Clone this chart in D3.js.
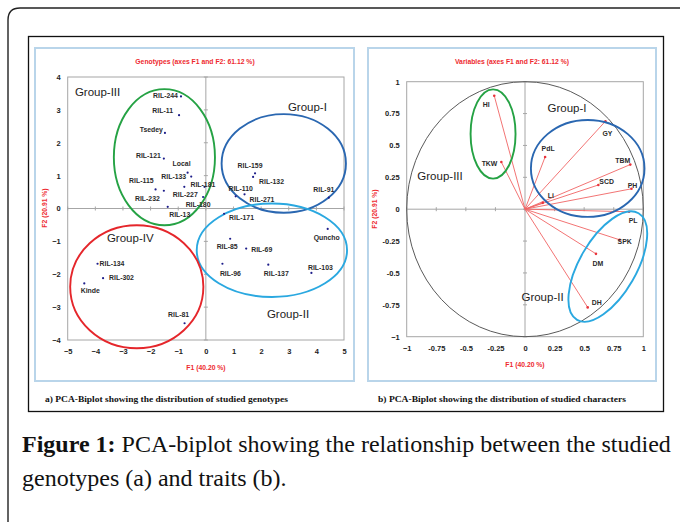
<!DOCTYPE html>
<html>
<head>
<meta charset="utf-8">
<script src="https://cdn.jsdelivr.net/npm/d3@7"></script>
<style>
  body { margin: 0; background: #fff; }
  svg { display: block; }
</style>
</head>
<body>
<div id="fig"></div>
<script>
// genotype scores (panel a)
const genoNames = ["RIL-244", "RIL-11", "Tsedey", "RIL-121", "Local", "RIL-133", "RIL-181", "RIL-227",
  "RIL-115", "RIL-232", "RIL-180", "RIL-13", "RIL-159", "RIL-132", "RIL-110", "RIL-271", "RIL-91",
  "RIL-171", "Quncho", "RIL-85", "RIL-69", "RIL-96", "RIL-137", "RIL-103", "RIL-134", "RIL-302",
  "Kinde", "RIL-81"]
const genoF1 = [-0.90, -0.97, -1.48, -1.52, -0.66, -0.53, -0.05, -0.78,
  -1.82, -1.52, -0.10, -1.38, 1.78, 1.71, 1.08, 1.40, 4.45,
  0.66, 4.41, 0.88, 1.46, 0.60, 2.26, 3.82, -3.92, -3.72,
  -4.40, -0.77]
const genoF2 = [3.41, 2.84, 2.30, 1.52, 1.09, 0.97, 0.66, 0.66,
  0.58, 0.54, 0.35, 0.05, 1.07, 0.96, 0.37, 0.43, 0.33,
  -0.16, -0.62, -0.92, -1.22, -1.68, -1.71, -1.96, -1.68, -2.12,
  -2.28, -3.49]

// trait loadings (panel b)
const traitNames = ["HI", "TKW", "PdL", "GY", "TBM", "SCD", "PH", "Li", "PL", "SPK", "DM", "DH"]
const traitF1 = [-0.26, -0.20, 0.17, 0.68, 0.89, 0.62, 0.90, 0.15, 0.88, 0.80, 0.60, 0.53]
const traitF2 = [0.89, 0.37, 0.41, 0.69, 0.35, 0.19, 0.16, 0.05, -0.02, -0.24, -0.35, -0.77]

// axis ticks
const ticksAx = [-5, -4, -3, -2, -1, 0, 1, 2, 3, 4, 5]
const ticksAy = [-4, -3, -2, -1, 0, 1, 2, 3, 4]
const ticksB = [-1, -0.75, -0.5, -0.25, 0, 0.25, 0.5, 0.75, 1]

// group ellipses in data units: name, cx, cy, rx, ry
const groupsA = [
  ["Group-III", -1.50, 1.56, 1.83, 2.07],
  ["Group-I", 2.82, 1.37, 2.25, 1.50],
  ["Group-II", 2.39, -1.27, 2.72, 1.42],
  ["Group-IV", -2.50, -2.38, 2.41, 1.87]
]
const groupsB = [
  ["Group-III", -0.27, 0.59, 0.19, 0.35, 0],
  ["Group-I", 0.53, 0.32, 0.48, 0.38, 0],
  ["Group-II", 0.70, -0.45, 0.52, 0.24, -60]
]

// label placement: [anchor, dx, dy]
const genoLabelPos = [["end", -3, 0], ["end", -6, -4], ["end", -2, -3], ["end", -3, -2], ["middle", -6, -8],
  ["end", -5, 1], ["start", -14, -2], ["middle", 1, 8], ["end", -2, -8], ["end", -4, 8], ["middle", -5, 8],
  ["middle", 12, 8], ["middle", -5, -7], ["start", 6, 5], ["middle", 5, -7], ["start", 5, 6], ["middle", -5, -7],
  ["start", 5, 4], ["middle", -1, 9], ["middle", -3, 8], ["start", 5, 2], ["middle", 8, 10], ["middle", 8, 9],
  ["middle", 9, -5], ["start", 2, 0], ["start", 6, 0], ["middle", 6, 8], ["middle", -6, -8]]
const traitLabelPos = [["middle", -8, 9], ["end", -4, 2], ["middle", 3, -8], ["middle", 2, 13], ["end", 0, -3],
  ["start", 1, -3], ["middle", 1, -3], ["start", 5, -7], ["middle", 4, 9], ["middle", 5, 2], ["middle", 2, 10],
  ["start", 4, -4]]
const groupColor = {"Group-I": "#2a67b1", "Group-II": "#2aa8e0", "Group-III": "#25a244", "Group-IV": "#e5262b"}
// where the group names start: [x, y] in data units
const groupTextA = {"Group-III": [-4.74, 3.51], "Group-I": [2.97, 3.05], "Group-IV": [-3.58, -0.93], "Group-II": [2.21, -3.24]}
const groupTextB = {"Group-I": [0.19, 0.79], "Group-III": [-0.91, 0.255], "Group-II": [-0.03, -0.70]}

const red = "#ee2a2f"
const width = 680, height = 522

const svg = d3.select("#fig").append("svg")
  .attr("width", width)
  .attr("height", height)
  .style("font-family", "'Liberation Sans', Arial, sans-serif")

svg.append("rect").attr("width", width).attr("height", height).attr("fill", "#fff")

// outer card, open at the bottom
svg.append("path")
  .attr("d", "M8,530 L8,20 Q8,8 20,8 L690,8")
  .attr("fill", "none").attr("stroke", "#222").attr("stroke-width", 1.4)

// frame around both panels
svg.append("rect").attr("x", 28.5).attr("y", 36.5).attr("width", 635).attr("height", 375)
  .attr("fill", "none").attr("stroke", "#111").attr("stroke-width", 1.3)

svg.append("rect").attr("x", 35).attr("y", 48).attr("width", 319).attr("height", 333)
  .attr("fill", "none").attr("stroke", "#b9d5ea").attr("stroke-width", 2)
svg.append("rect").attr("x", 368).attr("y", 48).attr("width", 288).attr("height", 333)
  .attr("fill", "none").attr("stroke", "#b9d5ea").attr("stroke-width", 2)

function drawFrame(g, x, y, xt, yt, xFmt) {
  const [x0, x1] = x.range(), [y0, y1] = y.range()
  g.append("rect").attr("x", x0).attr("y", y1).attr("width", x1 - x0).attr("height", y0 - y1)
    .attr("fill", "none").attr("stroke", "#a6a6a6").attr("stroke-width", 1)
  g.append("line").attr("x1", x(0)).attr("x2", x(0)).attr("y1", y1).attr("y2", y0)
    .attr("stroke", "#a6a6a6")
  g.append("line").attr("x1", x0).attr("x2", x1).attr("y1", y(0)).attr("y2", y(0))
    .attr("stroke", "#a6a6a6")
  g.selectAll(".tx").data(xt).enter().append("line")
    .attr("x1", d => x(d)).attr("x2", d => x(d)).attr("y1", y(0) - 2).attr("y2", y(0) + 2)
    .attr("stroke", "#a6a6a6")
  g.selectAll(".ty").data(yt).enter().append("line")
    .attr("y1", d => y(d)).attr("y2", d => y(d)).attr("x1", x(0) - 2).attr("x2", x(0) + 2)
    .attr("stroke", "#a6a6a6")

  const xAxis = g.append("g").attr("transform", `translate(0,${y0})`)
    .call(d3.axisBottom(x).tickValues(xt).tickSize(0).tickPadding(9).tickFormat(xFmt))
  const yAxis = g.append("g").attr("transform", `translate(${x0},0)`)
    .call(d3.axisLeft(y).tickValues(yt).tickSize(0).tickPadding(7).tickFormat(xFmt))
  for (const a of [xAxis, yAxis]) {
    a.select(".domain").remove()
    a.selectAll("text").attr("font-size", 7.5).attr("font-weight", "bold").attr("fill", "#222")
      .attr("font-family", "'Liberation Sans', Arial, sans-serif")
  }
}

function redText(g, x, y, txt, rot) {
  const t = g.append("text").attr("x", x).attr("y", y)
    .attr("text-anchor", "middle").attr("dominant-baseline", "middle")
    .attr("fill", red).attr("font-size", 6.8).attr("font-weight", "bold").text(txt)
  if (rot) t.attr("transform", `rotate(-90,${x},${y})`)
  return t
}

// ---------- panel a ----------
const xA = d3.scaleLinear().domain([-5, 5]).range([67.7, 344])
const yA = d3.scaleLinear().domain([-4, 4]).range([340, 77])
const gA = svg.append("g")
drawFrame(gA, xA, yA, ticksAx, ticksAy, d3.format("d"))

redText(gA, 195, 62, "Genotypes (axes F1 and F2: 61.12 %)")
redText(gA, 206, 368, "F1 (40.20 %)")
redText(gA, 45, 208, "F2 (20.91 %)", true)

gA.selectAll(".grp").data(groupsA).enter().append("ellipse")
  .attr("cx", d => xA(d[1])).attr("cy", d => yA(d[2]))
  .attr("rx", d => xA(d[3]) - xA(0)).attr("ry", d => yA(0) - yA(d[4]))
  .attr("fill", "none").attr("stroke", d => groupColor[d[0]]).attr("stroke-width", 1.9)

gA.selectAll(".gname").data(groupsA).enter().append("text")
  .attr("x", d => xA(groupTextA[d[0]][0])).attr("y", d => yA(groupTextA[d[0]][1]))
  .attr("dominant-baseline", "middle")
  .attr("font-size", 11.5).attr("fill", "#222").text(d => d[0])

gA.selectAll(".pt").data(genoNames).enter().append("circle")
  .attr("cx", (d, i) => xA(genoF1[i])).attr("cy", (d, i) => yA(genoF2[i]))
  .attr("r", 1.1).attr("fill", "#1d1d8a")

gA.selectAll(".lab").data(genoNames).enter().append("text")
  .attr("x", (d, i) => xA(genoF1[i]) + genoLabelPos[i][1])
  .attr("y", (d, i) => yA(genoF2[i]) + genoLabelPos[i][2])
  .attr("text-anchor", (d, i) => genoLabelPos[i][0])
  .attr("dominant-baseline", "middle")
  .attr("font-size", 6.9).attr("font-weight", "bold").attr("fill", "#2a2a2a")
  .text(d => d)

// ---------- panel b ----------
const xB = d3.scaleLinear().domain([-1, 1]).range([406.7, 643.3])
const yB = d3.scaleLinear().domain([-1, 1]).range([336.7, 81.7])
const gB = svg.append("g")
drawFrame(gB, xB, yB, ticksB, ticksB, d => (d === 0 || Math.abs(d) === 1) ? d3.format("d")(d) : String(d))

redText(gB, 512, 62, "Variables (axes F1 and F2: 61.12 %)")
redText(gB, 525, 365, "F1 (40.20 %)")
redText(gB, 375, 209, "F2 (20.91 %)", true)

gB.append("ellipse")
  .attr("cx", xB(0)).attr("cy", yB(0))
  .attr("rx", xB(1) - xB(0)).attr("ry", yB(0) - yB(1))
  .attr("fill", "none").attr("stroke", "#5a5a5a").attr("stroke-width", 1)

gB.selectAll(".vec").data(traitNames).enter().append("line")
  .attr("x1", xB(0)).attr("y1", yB(0))
  .attr("x2", (d, i) => xB(traitF1[i])).attr("y2", (d, i) => yB(traitF2[i]))
  .attr("stroke", "#f06464").attr("stroke-width", 0.9)
gB.selectAll(".tip").data(traitNames).enter().append("circle")
  .attr("cx", (d, i) => xB(traitF1[i])).attr("cy", (d, i) => yB(traitF2[i]))
  .attr("r", 1.3).attr("fill", "#e8323a")

gB.selectAll(".grp").data(groupsB).enter().append("ellipse")
  .attr("cx", 0).attr("cy", 0)
  .attr("rx", d => xB(d[3]) - xB(0)).attr("ry", d => d[5] ? xB(d[4]) - xB(0) : yB(0) - yB(d[4]))
  .attr("transform", d => `translate(${xB(d[1])},${yB(d[2])}) rotate(${d[5]})`)
  .attr("fill", "none").attr("stroke", d => groupColor[d[0]]).attr("stroke-width", 1.9)

gB.selectAll(".gname").data(groupsB).enter().append("text")
  .attr("x", d => xB(groupTextB[d[0]][0])).attr("y", d => yB(groupTextB[d[0]][1]))
  .attr("dominant-baseline", "middle")
  .attr("font-size", 11.5).attr("fill", "#222").text(d => d[0])

gB.selectAll(".lab").data(traitNames).enter().append("text")
  .attr("x", (d, i) => xB(traitF1[i]) + traitLabelPos[i][1])
  .attr("y", (d, i) => yB(traitF2[i]) + traitLabelPos[i][2])
  .attr("text-anchor", (d, i) => traitLabelPos[i][0])
  .attr("dominant-baseline", "middle")
  .attr("font-size", 6.9).attr("font-weight", "bold").attr("fill", "#2a2a2a")
  .text(d => d)

// sub captions
const sub = svg.append("g").attr("font-family", "'Liberation Serif', 'Times New Roman', serif")
  .attr("font-weight", "bold").attr("font-size", 8.6).attr("fill", "#111")
sub.append("text").attr("x", 45).attr("y", 402).attr("textLength", 243).attr("lengthAdjust", "spacingAndGlyphs")
  .text("a) PCA-Biplot showing the distribution of studied genotypes")
sub.append("text").attr("x", 378).attr("y", 402).attr("textLength", 248).attr("lengthAdjust", "spacingAndGlyphs")
  .text("b) PCA-Biplot showing the distribution of studied characters")

// figure caption
const cap = svg.append("text").attr("font-family", "'Liberation Serif', 'Times New Roman', serif")
  .attr("font-size", 24).attr("fill", "#111")
const l1 = cap.append("tspan").attr("x", 22).attr("y", 452)
l1.append("tspan").attr("font-weight", "bold").text("Figure 1:")
l1.append("tspan").text(" PCA-biplot showing the relationship between the studied")
cap.append("tspan").attr("x", 22).attr("y", 486).text("genotypes (a) and traits (b).")
</script>
</body>
</html>
